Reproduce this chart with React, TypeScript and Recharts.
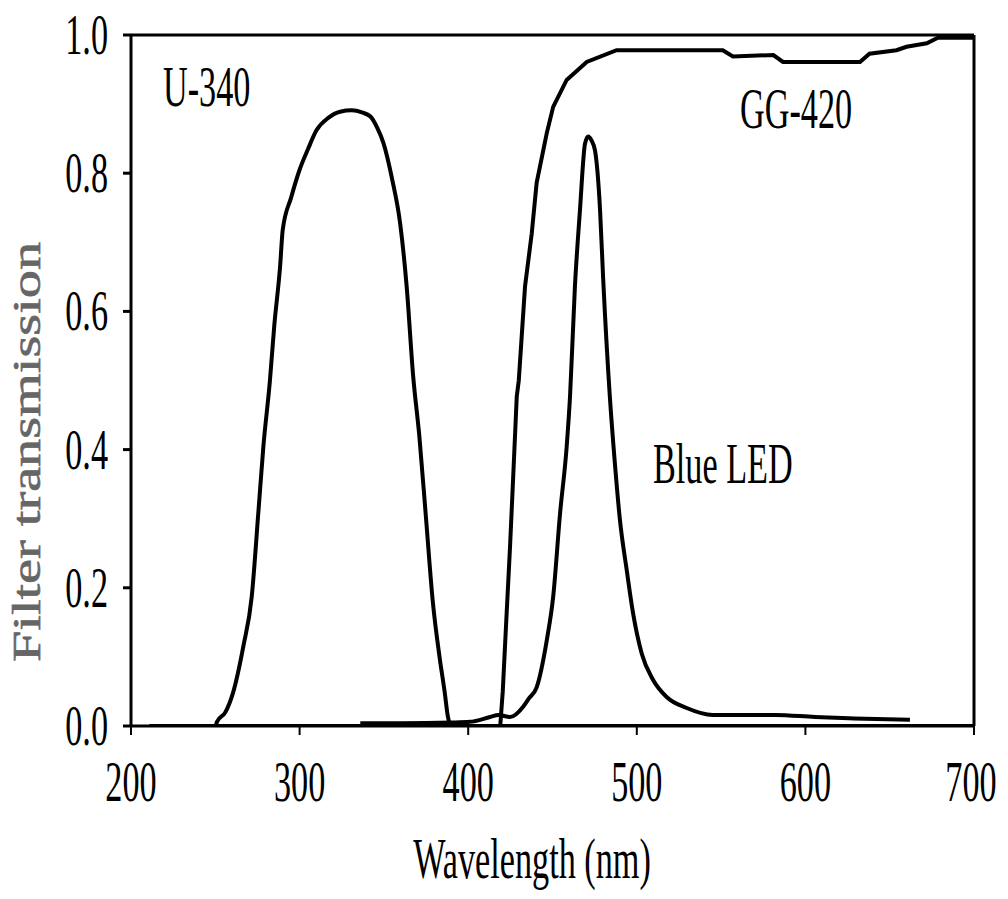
import { LineChart, Line, XAxis, YAxis, ReferenceLine } from "recharts";

// U-340 filter transmission
const U340_WL = [211, 250, 251, 256, 260.5, 266.6, 271.6, 275.5, 278.5, 282.4, 285, 288.4, 290, 295, 300, 305, 310, 317, 324, 331, 337, 342, 346, 349.7, 355, 359.6, 363.5, 367.4, 371, 375, 379, 383, 386, 388, 390, 700];
const U340_T = [0, 0, 0.006, 0.02, 0.048, 0.115, 0.187, 0.308, 0.404, 0.5, 0.58, 0.664, 0.718, 0.765, 0.805, 0.835, 0.862, 0.88, 0.889, 0.891, 0.888, 0.882, 0.866, 0.844, 0.79, 0.728, 0.636, 0.505, 0.42, 0.3, 0.18, 0.1, 0.05, 0.013, 0, 0];

// GG-420 long-pass filter
const GG420_WL = [211, 419, 420.5, 422.8, 424.8, 426.6, 428.8, 430, 433.7, 437.7, 440.6, 446.6, 450.4, 458.4, 470.3, 488, 551, 557, 581, 586.7, 632.4, 638, 654, 660, 672, 678.6, 700];
const GG420_T = [0, 0, 0.05, 0.163, 0.259, 0.356, 0.477, 0.5, 0.636, 0.713, 0.786, 0.858, 0.896, 0.935, 0.961, 0.978, 0.978, 0.969, 0.971, 0.961, 0.961, 0.973, 0.978, 0.983, 0.988, 0.996, 0.996];

// Blue LED emission (normalised)
const LED_WL = [336, 360, 390, 401, 413, 418, 424.8, 432.6, 436, 440.6, 446.6, 450.4, 454.5, 458.4, 460.4, 463.3, 466.3, 469.3, 471.2, 473, 475.2, 478.2, 480, 484, 487, 490, 494, 497.8, 502.9, 509.6, 517.7, 529.6, 545, 558.6, 582, 605.7, 629, 662];
const LED_T = [0.004, 0.004, 0.005, 0.006, 0.013, 0.016, 0.013, 0.028, 0.04, 0.056, 0.124, 0.187, 0.308, 0.404, 0.477, 0.636, 0.747, 0.843, 0.853, 0.848, 0.833, 0.747, 0.65, 0.477, 0.38, 0.298, 0.226, 0.163, 0.105, 0.067, 0.042, 0.026, 0.016, 0.016, 0.016, 0.013, 0.011, 0.009];

const X_TICKS = [200, 300, 400, 500, 600, 700];
const Y_TICKS = [0, 0.2, 0.4, 0.6, 0.8, 1.0];

const FONT = "'Liberation Serif', 'Times New Roman', serif";
// the original figure is squeezed sideways, so all text is narrowed
const SQUEEZE = 0.59;

const toRows = (wl: number[], t: number[]) => wl.map((w, i) => ({ wl: w, t: t[i] }));

function NarrowText({ x, y, anchor = "start", size = 58, children }: any) {
    return (
        <g transform={`translate(${x},${y}) scale(${SQUEEZE},1)`}>
            <text x={0} y={0} textAnchor={anchor} fontFamily={FONT} fontSize={size} fill="#000">
                {children}
            </text>
        </g>
    );
}

function YTick({ x, y, payload }: any) {
    return (
        <NarrowText x={x} y={y + 19} anchor="end">
            {Number(payload.value).toFixed(1)}
        </NarrowText>
    );
}

function XTick({ x, y, payload }: any) {
    const dx = payload.value === 700 ? -3 : 0;
    return (
        <NarrowText x={x + dx} y={y + 64} anchor="middle">
            {payload.value}
        </NarrowText>
    );
}

export default function App() {
    const u340 = toRows(U340_WL, U340_T);
    const gg420 = toRows(GG420_WL, GG420_T);
    const led = toRows(LED_WL, LED_T);

    return (
        <div style={{ position: "absolute", left: 0, top: 0, width: 1008, height: 899, background: "#fff" }}>
            <LineChart width={1008} height={899} margin={{ top: 35, right: 34, bottom: 73, left: 31 }}>
                <XAxis
                    type="number"
                    dataKey="wl"
                    domain={[200, 700]}
                    ticks={X_TICKS}
                    height={100}
                    tick={<XTick />}
                    tickSize={9}
                    tickMargin={2}
                    axisLine={{ stroke: "#000", strokeWidth: 3 }}
                    tickLine={{ stroke: "#000", strokeWidth: 2 }}
                    allowDataOverflow
                />
                <YAxis
                    type="number"
                    domain={[0, 1]}
                    ticks={Y_TICKS}
                    width={100}
                    tick={<YTick />}
                    tickSize={8}
                    tickMargin={15}
                    axisLine={{ stroke: "#000", strokeWidth: 3 }}
                    tickLine={{ stroke: "#000", strokeWidth: 3 }}
                    allowDataOverflow
                />
                <ReferenceLine y={1} stroke="#000" strokeWidth={3} />
                <ReferenceLine x={700} stroke="#000" strokeWidth={3} />

                <Line data={u340} dataKey="t" type="monotone" stroke="#000" strokeWidth={4} dot={false} isAnimationActive={false} />
                <Line data={gg420} dataKey="t" type="linear" stroke="#000" strokeWidth={4} dot={false} isAnimationActive={false} />
                <Line data={led} dataKey="t" type="monotone" stroke="#000" strokeWidth={4} dot={false} isAnimationActive={false} />
            </LineChart>

            {/* titles and curve names */}
            <svg width={1008} height={899} style={{ position: "absolute", left: 0, top: 0, pointerEvents: "none" }}>
                <NarrowText x={163} y={106}>U-340</NarrowText>
                <NarrowText x={740} y={128}>GG-420</NarrowText>
                <NarrowText x={653} y={483}>Blue LED</NarrowText>
                <NarrowText x={532} y={878} anchor="middle">Wavelength (nm)</NarrowText>
                <text
                    transform="translate(40,452) rotate(-90)"
                    textAnchor="middle"
                    fontFamily={FONT}
                    fontSize={40}
                    fill="#666"
                    stroke="#666"
                    strokeWidth={0.6}
                    textLength={420}
                    lengthAdjust="spacingAndGlyphs"
                >
                    Filter transmission
                </text>
            </svg>
        </div>
    );
}
